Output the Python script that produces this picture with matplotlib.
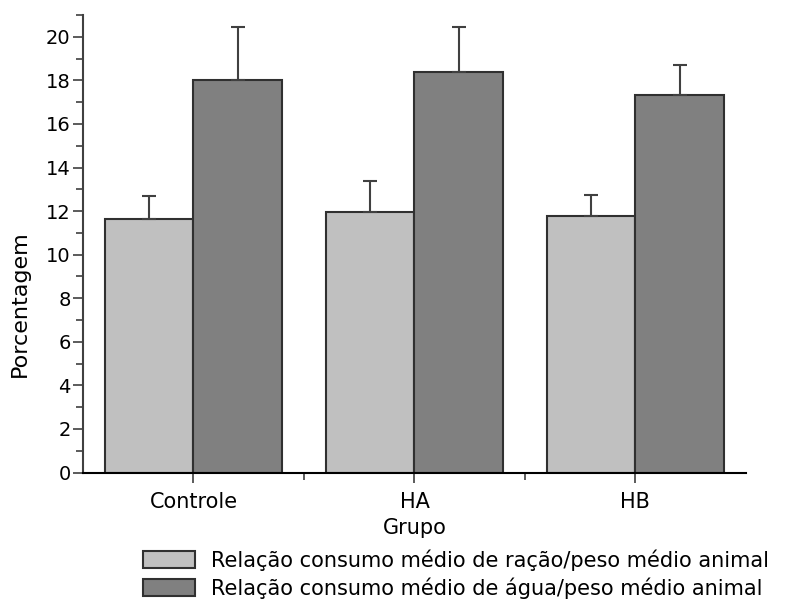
import numpy as np
import matplotlib.pyplot as plt
from matplotlib.patches import Patch
from matplotlib.ticker import MultipleLocator, FixedLocator

plt.rcParams['font.family'] = ['DejaVu Sans']

grupos = ['Controle', 'HA', 'HB']
racao = [11.63, 11.98, 11.78]
racao_err = [1.05, 1.39, 0.96]
agua = [18.03, 18.40, 17.33]
agua_err = [2.40, 2.03, 1.36]
labels = ['Relação consumo médio de ração/peso médio animal',
          'Relação consumo médio de água/peso médio animal']

fig = plt.figure(figsize=(8.09, 6.01), dpi=100)
ax = fig.add_axes([0.1026, 0.2138, 0.8194, 0.7612])

x = np.arange(len(grupos))
w = 0.4
ek = dict(ecolor='#404040', elinewidth=1.5, capsize=5, capthick=1.5)
ax.bar(x - w/2, racao, w, color='#c0c0c0', edgecolor='#303030', linewidth=1.5,
       yerr=[np.zeros(3), racao_err], error_kw=ek)
ax.bar(x + w/2, agua, w, color='#808080', edgecolor='#303030', linewidth=1.5,
       yerr=[np.zeros(3), agua_err], error_kw=ek)

ax.set_xlim(-0.5, 2.5)
ax.set_ylim(0, 21)
ax.set_xticks(x)
ax.set_xticklabels(grupos, fontsize=15)
ax.xaxis.set_minor_locator(FixedLocator([0.5, 1.5]))
ax.yaxis.set_major_locator(MultipleLocator(2))
ax.yaxis.set_minor_locator(MultipleLocator(1))
ax.tick_params(axis='y', which='major', labelsize=14)
ax.tick_params(axis='both', which='major', length=7, width=1.2,
               color='#404040', pad=2)
ax.tick_params(axis='x', which='major', pad=7)
ax.tick_params(axis='both', which='minor', length=5, width=1.2, color='#404040')
ax.spines['top'].set_visible(False)
ax.spines['right'].set_visible(False)
ax.spines['left'].set_linewidth(1.5)
ax.spines['left'].set_color('#404040')
ax.spines['bottom'].set_linewidth(1.5)
ax.set_xlabel('Grupo', fontsize=15, labelpad=4)
ax.set_ylabel('Porcentagem', fontsize=16)
ax.yaxis.set_label_coords(-0.080, 0.37)

handles = [Patch(facecolor='#c0c0c0', edgecolor='#303030', linewidth=1.5),
           Patch(facecolor='#808080', edgecolor='#303030', linewidth=1.5)]
fig.legend(handles, labels, loc='upper left', bbox_to_anchor=(0.177, 0.086),
           frameon=False, fontsize=15, handlelength=2.5, handleheight=0.85,
           handletextpad=0.75, labelspacing=0.3, borderpad=0, borderaxespad=0)

fig.savefig('out.png', dpi=100)
